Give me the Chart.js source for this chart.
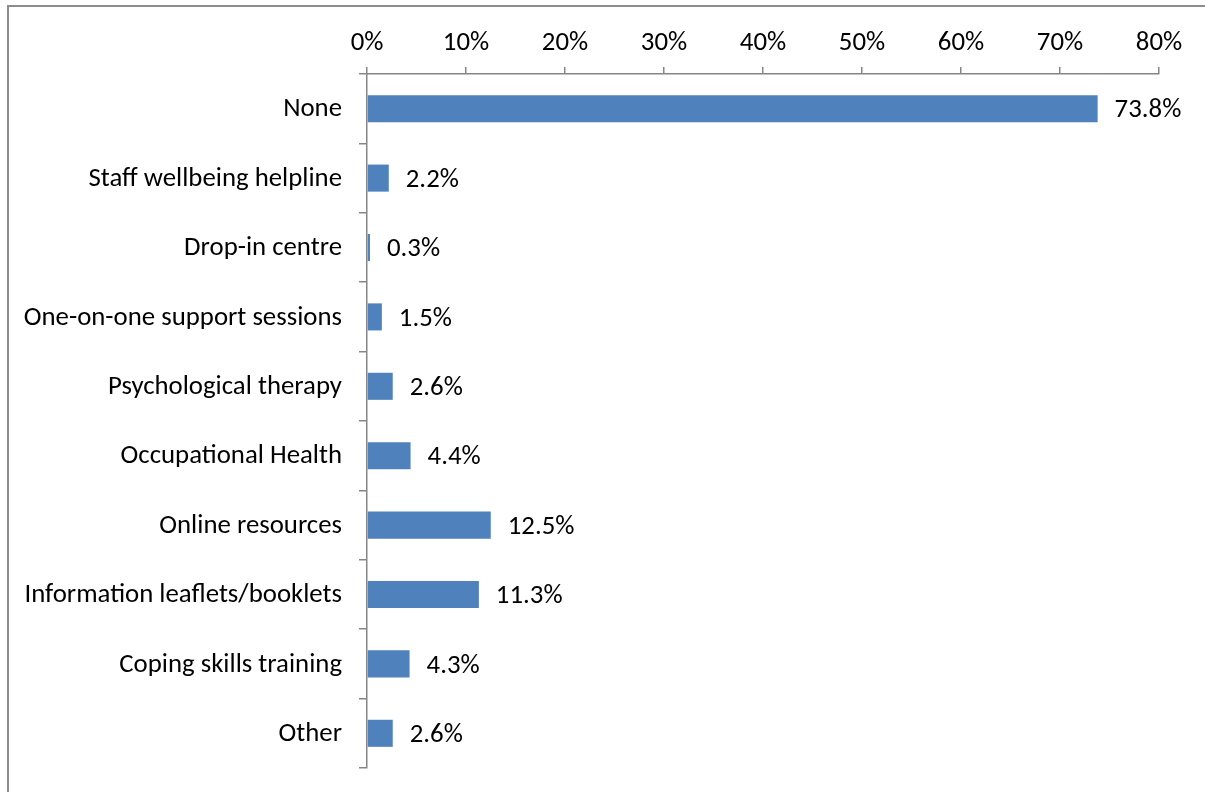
<!DOCTYPE html>
<html>
<head>
<meta charset="utf-8">
<script src="https://cdn.jsdelivr.net/npm/chart.js@4/dist/chart.umd.min.js"></script>
<style>
  html, body { margin: 0; padding: 0; background: #fff; overflow: hidden; }
  #wrap { position: relative; width: 1205px; height: 792px; }
  #frame { position: absolute; left: 7px; top: 5px; width: 1220px; height: 820px;
           border: 2px solid #8c8c8c; box-sizing: border-box; pointer-events: none; }
  canvas { position: absolute; left: 0; top: 0; }
</style>
</head>
<body>
<div id="wrap">
  <canvas id="chart" width="1205" height="792"></canvas>
  <div id="frame"></div>
</div>
<script>
// Support types offered to staff, share of respondents (%)
const categories = [
  "None",
  "Staff wellbeing helpline",
  "Drop-in centre",
  "One-on-one support sessions",
  "Psychological therapy",
  "Occupational Health",
  "Online resources",
  "Information leaflets/booklets",
  "Coping skills training",
  "Other"
];
const shares = [73.8, 2.2, 0.3, 1.5, 2.6, 4.4, 12.5, 11.3, 4.3, 2.6];
const tickValues = [0, 10, 20, 30, 40, 50, 60, 70, 80];

const FONT = "Carlito, Lato, 'Liberation Sans', sans-serif";
const FONT_SIZE = 26.8;
const AXIS_GREY = "#868686";

// Writes each bar's value just past its end
const valueLabels = {
  id: "valueLabels",
  afterDatasetsDraw(chart) {
    const ctx = chart.ctx;
    const meta = chart.getDatasetMeta(0);
    ctx.save();
    ctx.font = FONT_SIZE + "px " + FONT;
    ctx.fillStyle = "#000";
    ctx.textAlign = "left";
    ctx.textBaseline = "middle";
    meta.data.forEach((bar, i) => {
      ctx.fillText(shares[i].toFixed(1) + "%", bar.x + 17, bar.y + 2);
    });
    ctx.restore();
  }
};

new Chart(document.getElementById("chart"), {
  type: "bar",
  data: {
    labels: categories,
    datasets: [{
      data: shares,
      backgroundColor: "#4F81BD",
      borderWidth: 0,
      barPercentage: 0.39,
      categoryPercentage: 1.0
    }]
  },
  options: {
    indexAxis: "y",
    responsive: false,
    animation: false,
    layout: { padding: { top: 0, right: 46, bottom: 24, left: 0 } },
    plugins: { legend: { display: false }, tooltip: { enabled: false } },
    scales: {
      x: {
        position: "top",
        min: 0,
        max: 80,
        afterFit: s => { s.height = 74; },
        afterBuildTicks: s => { s.ticks = tickValues.map(v => ({ value: v })); },
        grid: {
          drawOnChartArea: false,
          drawTicks: true,
          tickLength: 7,
          color: AXIS_GREY,
          lineWidth: 1.5
        },
        border: { display: true, color: AXIS_GREY, width: 1.5 },
        ticks: {
          padding: 8,
          color: "#000",
          font: { family: FONT, size: FONT_SIZE },
          maxRotation: 0,
          callback: v => v + "%"
        }
      },
      y: {
        afterFit: s => { s.width = 367; s.paddingTop = 0; s.paddingBottom = 0; },
        grid: {
          offset: true,
          drawOnChartArea: false,
          drawTicks: true,
          tickLength: 8,
          color: AXIS_GREY,
          lineWidth: 1.5
        },
        border: { display: true, color: AXIS_GREY, width: 1.5 },
        ticks: {
          padding: 17,
          labelOffset: 1,
          color: "#000",
          font: { family: FONT, size: FONT_SIZE },
          autoSkip: false
        }
      }
    }
  },
  plugins: [valueLabels]
});
</script>
</body>
</html>
